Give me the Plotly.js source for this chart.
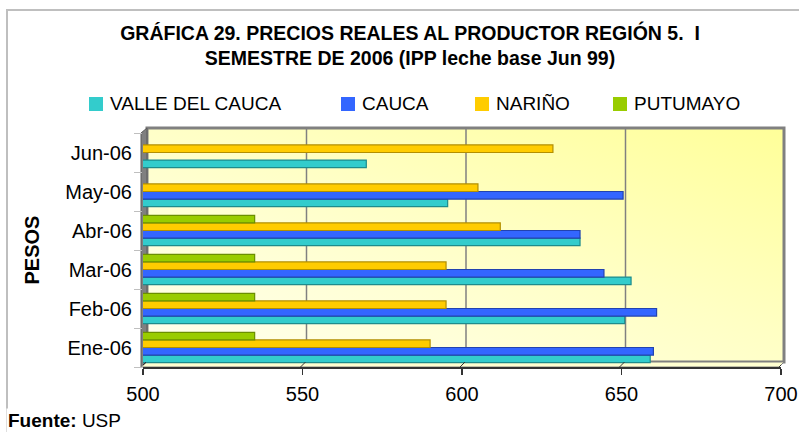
<!DOCTYPE html>
<html>
<head>
<meta charset="utf-8">
<script src="https://cdn.plot.ly/plotly-3.0.1.min.js"></script>
<style>html,body{margin:0;padding:0;background:#fff;}#chart{width:799px;height:432px;}</style>
</head>
<body>
<div id="chart"></div>
<script>
// ---- data ----
const categories = ['Ene-06', 'Feb-06', 'Mar-06', 'Abr-06', 'May-06', 'Jun-06'];
const seriesNames = ['VALLE DEL CAUCA', 'CAUCA', 'NARIÑO', 'PUTUMAYO'];
const valleDelCauca = [659, 651, 653, 637, 595.5, 570];
const cauca = [660, 661, 644.5, 637, 650.5, null];
const narino = [590, 595, 595, 612, 605, 628.5];
const putumayo = [535, 535, 535, 535, null, null];
const xTicks = [500, 550, 600, 650, 700];
const gridValues = [550, 600, 650];
const titleText = 'GRÁFICA 29. PRECIOS REALES AL PRODUCTOR REGIÓN 5.  I<br>SEMESTRE DE 2006 (IPP leche base Jun 99)';
const yTitle = 'PESOS';
const sourceText = '<b>Fuente:</b> USP';

// ---- styles ----
const colors = ['#33CCCC', '#3366FF', '#FFCC00', '#99CC00'];
const edgeColors = ['#1E8C8C', '#2243B0', '#B38F00', '#6B8F00'];
const seriesValues = [valleDelCauca, cauca, narino, putumayo];
const FONT = 'Liberation Sans, Arial, sans-serif';

// plot area in pixels
const L = 143, R = 781, T = 133, B = 367, W = R - L, H = B - T;
const px = x => (x - L) / W;
const py = y => (B - y) / H;
const cx = x => x / 799;
const cy = y => 1 - y / 432;

const traces = seriesValues.map((vals, i) => ({
  type: 'bar',
  orientation: 'h',
  name: seriesNames[i],
  y: categories,
  x: vals,
  base: 0,
  marker: {color: colors[i], line: {color: edgeColors[i], width: 1.2}},
  showlegend: false,
  hoverinfo: 'x+name'
}));

const shapes = [];
// outer chart border
shapes.push({type: 'rect', xref: 'paper', yref: 'paper', x0: px(7), x1: px(812), y0: py(440), y1: py(10),
  line: {color: '#BFBFBF', width: 2}, fillcolor: 'rgba(0,0,0,0)', layer: 'below'});
// back wall border
shapes.push({type: 'rect', xref: 'paper', yref: 'paper', x0: px(147), x1: px(784), y0: py(362), y1: py(128),
  line: {color: '#808080', width: 3}, fillcolor: 'rgba(0,0,0,0)', layer: 'below'});
// gridlines on back wall
gridValues.forEach(v => shapes.push({type: 'line', xref: 'x', xsizemode: 'pixel', xanchor: v, x0: 4, x1: 4,
  yref: 'paper', y0: py(362), y1: py(128), line: {color: '#808080', width: 1.5}, layer: 'below'}));
// left wall
const p = (x, y) => px(x) + ',' + py(y);
shapes.push({type: 'path', xref: 'paper', yref: 'paper',
  path: 'M' + p(141, 367) + ' L' + p(141, 133) + ' L' + p(147, 128) + ' L' + p(147, 362) + ' Z',
  fillcolor: '#808080', line: {color: '#5A5A5A', width: 1}, layer: 'below'});
// floor strip
shapes.push({type: 'path', xref: 'paper', yref: 'paper',
  path: 'M' + p(141, 367) + ' L' + p(147, 362) + ' L' + p(784, 362) + ' L' + p(779, 367) + ' Z',
  fillcolor: '#FFFFD0', line: {color: '#808080', width: 1}, layer: 'below'});
// small diagonal tick marks on floor
xTicks.forEach(v => shapes.push({type: 'line', xref: 'x', xsizemode: 'pixel', xanchor: v, x0: -2, x1: 3,
  yref: 'paper', y0: py(367), y1: py(362), line: {color: '#333333', width: 1}, layer: 'above'}));

// custom legend
const legX = [89, 341, 475, 613];
const annotations = [];
seriesNames.forEach((n, i) => {
  shapes.push({type: 'rect', xref: 'paper', yref: 'paper', x0: px(legX[i]), x1: px(legX[i] + 14),
    y0: py(111), y1: py(97), fillcolor: colors[i], line: {width: 0}});
  annotations.push({xref: 'paper', yref: 'paper', x: px(legX[i] + 19), y: py(103.5), xanchor: 'left', yanchor: 'middle',
    text: n, showarrow: false, font: {family: FONT, size: 19, color: '#000'}});
});
annotations.push({xref: 'paper', yref: 'paper', x: px(6), y: py(420), xanchor: 'left', yanchor: 'middle',
  text: sourceText, showarrow: false, bgcolor: '#FFFFFF', font: {family: FONT, size: 19, color: '#000'}});

const svg = '<svg xmlns="http://www.w3.org/2000/svg" width="637" height="234" preserveAspectRatio="none">' +
  '<defs><linearGradient id="g" x1="0" y1="1" x2="1" y2="0">' +
  '<stop offset="0" stop-color="#FFFFF0"/><stop offset="0.55" stop-color="#FFFFC4"/><stop offset="1" stop-color="#FFFF99"/>' +
  '</linearGradient></defs><rect width="637" height="234" fill="url(#g)"/></svg>';

const layout = {
  width: 799, height: 432,
  margin: {l: L, r: 799 - R, t: T, b: 432 - B, pad: 0},
  paper_bgcolor: '#FFFFFF',
  plot_bgcolor: 'rgba(0,0,0,0)',
  barmode: 'group',
  bargap: 0.22,
  bargroupgap: 0,
  font: {family: FONT, color: '#000'},
  title: {text: titleText, xref: 'container', x: cx(410), xanchor: 'center', yref: 'container', y: cy(40), yanchor: 'top',
    font: {family: FONT, size: 19.5, weight: 'bold', color: '#000'}},
  xaxis: {range: [500, 700], tickmode: 'array', tickvals: xTicks, ticks: 'outside', ticklen: 6, tickwidth: 1.5,
    tickcolor: '#333', showline: true, linecolor: '#333', linewidth: 2, showgrid: false, zeroline: false,
    tickfont: {family: FONT, size: 20, color: '#000'}, ticklabelstandoff: 2, fixedrange: true},
  yaxis: {type: 'category', categoryorder: 'array', categoryarray: categories, tickson: 'boundaries',
    ticks: 'outside', ticklen: 8, tickcolor: '#BFBFBF', showline: false, showgrid: false, zeroline: false,
    tickfont: {family: FONT, size: 20, color: '#000'}, ticklabelstandoff: 10,
    title: {text: '<b>' + yTitle + '</b>', standoff: 20, font: {family: FONT, size: 20, color: '#000'}}, fixedrange: true},
  images: [{source: 'data:image/svg+xml;charset=utf-8,' + encodeURIComponent(svg), xref: 'paper', yref: 'paper',
    x: px(147), y: py(128), sizex: 637 / W, sizey: 234 / H, xanchor: 'left', yanchor: 'top', sizing: 'stretch', layer: 'below'}],
  shapes: shapes,
  annotations: annotations
};

Plotly.newPlot('chart', traces, layout, {displayModeBar: false, staticPlot: true});
</script>
</body>
</html>
